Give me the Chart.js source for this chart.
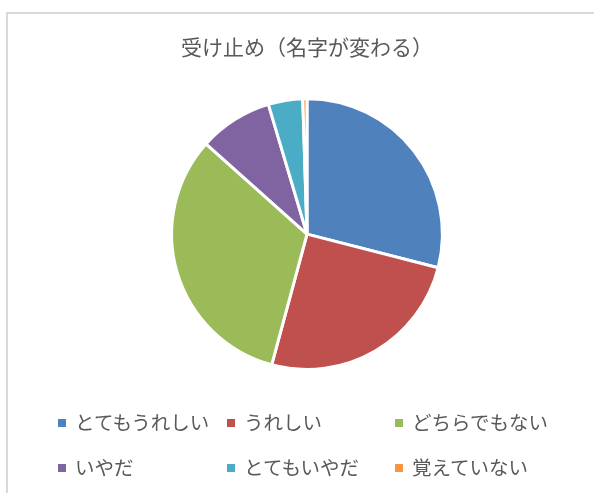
<!DOCTYPE html>
<html lang="ja">
<head>
  <meta charset="UTF-8" />
  <title>受け止め（名字が変わる）</title>
  <script src="https://cdn.jsdelivr.net/npm/chart.js"></script>
  <style>
    html, body { margin: 0; padding: 0; background: #fff; overflow: hidden; }
    #wrap { position: relative; width: 594px; height: 493px; }
    #frame { position: absolute; left: 6px; top: 12px; width: 700px; height: 600px;
             border-left: 2px solid #d9d9d9; border-top: 2px solid #d9d9d9; }
    #pieChart { position: absolute; left: 0; top: 0; }
    .leg { position: absolute; font-family: "Noto Sans CJK JP", sans-serif; font-size: 19.5px;
           color: #595959; white-space: nowrap; line-height: 24px; }
    .leg span.box { display: inline-block; width: 8px; height: 8px; margin-right: 9px;
                    vertical-align: middle; position: relative; top: -2px; }
  </style>
</head>
<body>
  <div id="wrap">
    <div id="frame"></div>
    <canvas id="pieChart" width="594" height="493"></canvas>
  </div>

  <script>
    // data (percent of answers)
    const categories = ['とてもうれしい', 'うれしい', 'どちらでもない', 'いやだ', 'とてもいやだ', '覚えていない'];
    const values = [29.0, 25.2, 32.4, 8.8, 4.1, 0.5];
    const colors = ['#4F81BD', '#C0504D', '#9BBB59', '#8064A2', '#4BACC6', '#F79646'];

    const pieChart = new Chart(document.getElementById('pieChart'), {
      type: 'pie',
      data: {
        labels: categories,
        datasets: [{
          data: values,
          backgroundColor: colors,
          borderColor: '#ffffff',
          borderWidth: 3
        }]
      },
      options: {
        responsive: false,
        animation: false,
        layout: { padding: { left: 170, right: 150, top: 0, bottom: 122 } },
        plugins: {
          legend: { display: false },
          tooltip: { enabled: false },
          title: {
            display: true,
            text: '受け止め（名字が変わる）',
            color: '#595959',
            font: { family: '"Noto Sans CJK JP", sans-serif', size: 21, weight: 'normal' },
            padding: { top: 34, bottom: 38 }
          }
        }
      }
    });

    // legend in a 3-column grid, like the original
    const legendCols = [58, 227, 395];
    const legendRows = [410, 455];
    const wrap = document.getElementById('wrap');
    categories.forEach(function (name, i) {
      const item = document.createElement('div');
      item.className = 'leg';
      item.style.left = legendCols[i % 3] + 'px';
      item.style.top = legendRows[Math.floor(i / 3)] + 'px';
      item.innerHTML = '<span class="box" style="background:' + colors[i] + '"></span>' + name;
      wrap.appendChild(item);
    });
  </script>
</body>
</html>
